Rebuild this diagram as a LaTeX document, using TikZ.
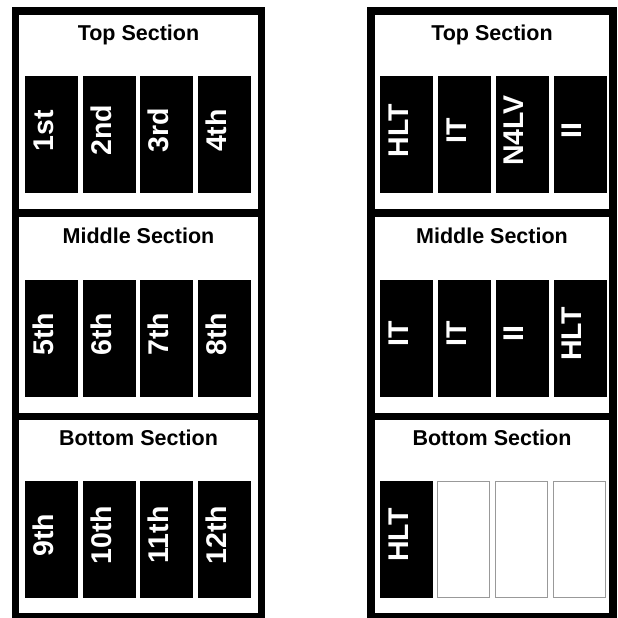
\documentclass[tikz,border=0pt]{standalone}
\usepackage{fontspec}
\setmainfont{Liberation Sans}
\begin{document}
\begin{tikzpicture}[x=1pt,y=-1pt,
  frame/.style={draw=black, line width=7.5pt},
  divider/.style={draw=black, line width=7.5pt},
  cell/.style={draw=none, fill=black, minimum width=53pt, minimum height=117pt, inner sep=0pt},
  emptycell/.style={draw=black!40, line width=0.8pt, fill=white, minimum width=52pt, minimum height=116pt, inner sep=0pt},
  lbl/.style={text=white, font=\bfseries\fontsize{28.5}{30}\selectfont, rotate=90, inner sep=0pt, xshift=4pt, yshift=8pt},
  title/.style={font=\bfseries\fontsize{21.5}{24}\selectfont, anchor=base, inner sep=0pt}
]
\useasboundingbox (0,0) rectangle (618,618);
\fill[white] (0,0) rectangle (618,618);

% ---------------- left panel ----------------
\draw[frame] (15.5,11) rectangle (261.5,616.5);
\draw[divider] (15.5,213) -- (261.5,213);
\draw[divider] (15.5,416.5) -- (261.5,416.5);

\node[title] (lt) at (138.5,41) {Top Section};
\node[title] (lm) at (138.5,243) {Middle Section};
\node[title] (lb) at (138.5,445) {Bottom Section};

\node[cell] (a1) at (51.5,134.5) {};
\node[cell] (a2) at (109,134.5) {};
\node[cell] (a3) at (166.5,134.5) {};
\node[cell] (a4) at (224,134.5) {};
\node[lbl] (ta1) at (a1) {1st};
\node[lbl] (ta2) at (a2) {2nd};
\node[lbl] (ta3) at (a3) {3rd};
\node[lbl] (ta4) at (a4) {4th};

\node[cell] (a5) at (51.5,338) {};
\node[cell] (a6) at (109,338) {};
\node[cell] (a7) at (166.5,338) {};
\node[cell] (a8) at (224,338) {};
\node[lbl] (ta5) at (a5) {5th};
\node[lbl] (ta6) at (a6) {6th};
\node[lbl] (ta7) at (a7) {7th};
\node[lbl] (ta8) at (a8) {8th};

\node[cell] (a9) at (51.5,539) {};
\node[cell] (a10) at (109,539) {};
\node[cell] (a11) at (166.5,539) {};
\node[cell] (a12) at (224,539) {};
\node[lbl] (ta9) at (a9) {9th};
\node[lbl] (ta10) at (a10) {10th};
\node[lbl] (ta11) at (a11) {11th};
\node[lbl] (ta12) at (a12) {12th};

% ---------------- right panel ----------------
\draw[frame] (371,11) rectangle (613,616.5);
\draw[divider] (371,213) -- (613,213);
\draw[divider] (371,416.5) -- (613,416.5);

\node[title] (rt) at (492,41) {Top Section};
\node[title] (rm) at (492,243) {Middle Section};
\node[title] (rb) at (492,445) {Bottom Section};

\node[cell] (b1) at (406.5,134.5) {};
\node[cell] (b2) at (464.5,134.5) {};
\node[cell] (b3) at (522,134.5) {};
\node[cell] (b4) at (580,134.5) {};
\node[lbl] (tb1) at (b1) {HLT};
\node[lbl] (tb2) at (b2) {IT};
\node[lbl] (tb3) at (b3) {N4LV};
\node[lbl] (tb4) at (b4) {II};

\node[cell] (b5) at (406.5,338) {};
\node[cell] (b6) at (464.5,338) {};
\node[cell] (b7) at (522,338) {};
\node[cell] (b8) at (580,338) {};
\node[lbl] (tb5) at (b5) {IT};
\node[lbl] (tb6) at (b6) {IT};
\node[lbl] (tb7) at (b7) {II};
\node[lbl] (tb8) at (b8) {HLT};

\node[cell] (b9) at (406.5,539) {};
\node[emptycell] (b10) at (463,539) {};
\node[emptycell] (b11) at (521,539) {};
\node[emptycell] (b12) at (579,539) {};
\node[lbl] (tb9) at (b9) {HLT};
\end{tikzpicture}
\end{document}
